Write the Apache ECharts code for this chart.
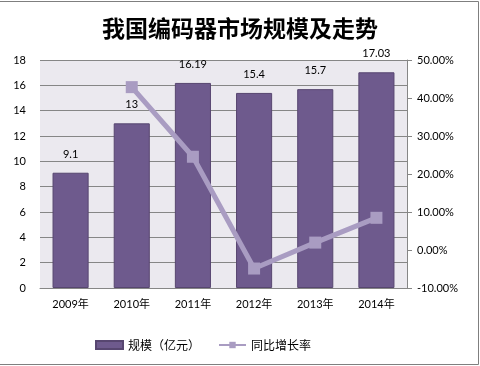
<!DOCTYPE html>
<html><head><meta charset="utf-8">
<script src="https://cdn.jsdelivr.net/npm/echarts@6/dist/echarts.min.js"></script>
<style>html,body{margin:0;padding:0;background:#fff}#c{width:480px;height:366px}</style>
</head><body><div id="c"></div>
<script>
var categories = ['2009年','2010年','2011年','2012年','2013年','2014年'];
var scaleValues = [9.1, 13, 16.19, 15.4, 15.7, 17.03];
var growthValues = ['-', 42.86, 24.54, -4.88, 1.95, 8.47];
var leftTicks = {min: 0, max: 18, interval: 2};
var rightTicks = {min: -10, max: 50, interval: 10};

var chart = echarts.init(document.getElementById('c'));
var labelFont = 'Lato, "Noto Sans CJK SC", sans-serif';
var borders = [
  {type: 'line', shape: {x1: 0, y1: 1.5, x2: 478.5, y2: 1.5}, style: {stroke: '#7f7f7f', lineWidth: 1}},
  {type: 'line', shape: {x1: 478.5, y1: 1.5, x2: 478.5, y2: 364.5}, style: {stroke: '#7f7f7f', lineWidth: 1}},
  {type: 'line', shape: {x1: 0, y1: 364.5, x2: 478.5, y2: 364.5}, style: {stroke: '#7f7f7f', lineWidth: 1}}
];
chart.setOption({
  animation: false,
  backgroundColor: '#fff',
  title: {
    text: '我国编码器市场规模及走势',
    left: 'center', top: 12,
    textStyle: {fontFamily: '"Noto Sans CJK SC"', fontSize: 23, fontWeight: 'bold', color: '#000'}
  },
  graphic: borders,
  legend: {
    bottom: 10, left: 90,
    itemGap: 18, itemWidth: 27, itemHeight: 8,
    textStyle: {fontFamily: '"Noto Sans CJK SC"', fontSize: 12, color: '#000'},
    data: [{name: '规模（亿元）', icon: 'rect'}, {name: '同比增长率'}]
  },
  grid: {left: 40, right: 73, top: 60, bottom: 78},
  xAxis: {
    type: 'category', data: categories,
    axisLine: {lineStyle: {color: '#868686'}},
    axisTick: {show: false},
    axisLabel: {color: '#000', fontFamily: labelFont, fontSize: 11, margin: 11}
  },
  yAxis: [{
    type: 'value', min: leftTicks.min, max: leftTicks.max, interval: leftTicks.interval,
    axisLine: {show: false}, axisTick: {show: false},
    axisLabel: {color: '#000', fontFamily: labelFont, fontSize: 11, margin: 14},
    splitLine: {lineStyle: {color: '#868686'}},
    splitArea: {show: false}
  }, {
    type: 'value', min: rightTicks.min, max: rightTicks.max, interval: rightTicks.interval,
    position: 'right',
    axisLine: {show: true, lineStyle: {color: '#868686'}},
    axisTick: {show: true, length: 5, lineStyle: {color: '#868686'}},
    axisLabel: {color: '#000', fontFamily: labelFont, fontSize: 11, margin: 10,
      formatter: function(v){ return v.toFixed(2) + '%'; }},
    splitLine: {show: false}
  }],
  series: [{
    name: '规模（亿元）', type: 'bar', data: scaleValues, barWidth: '59%',
    itemStyle: {color: '#6E5A8D', borderColor: '#574670', borderWidth: 1},
    label: {show: true, position: 'top', color: '#000', fontFamily: labelFont, fontSize: 11, distance: 13}
  }, {
    name: '同比增长率', type: 'line', yAxisIndex: 1, data: growthValues,
    symbol: 'rect', symbolSize: 12,
    lineStyle: {color: '#A99CC2', width: 5},
    itemStyle: {color: '#A99CC2'}
  }]
});
var g = chart.getModel().getComponent('grid').coordinateSystem.getRect();
chart.setOption({graphic: borders.concat([
  {type: 'rect', z: -10, silent: true, shape: {x: g.x, y: g.y, width: g.width, height: g.height}, style: {fill: '#EBE9EF'}}
])});
</script></body></html>
